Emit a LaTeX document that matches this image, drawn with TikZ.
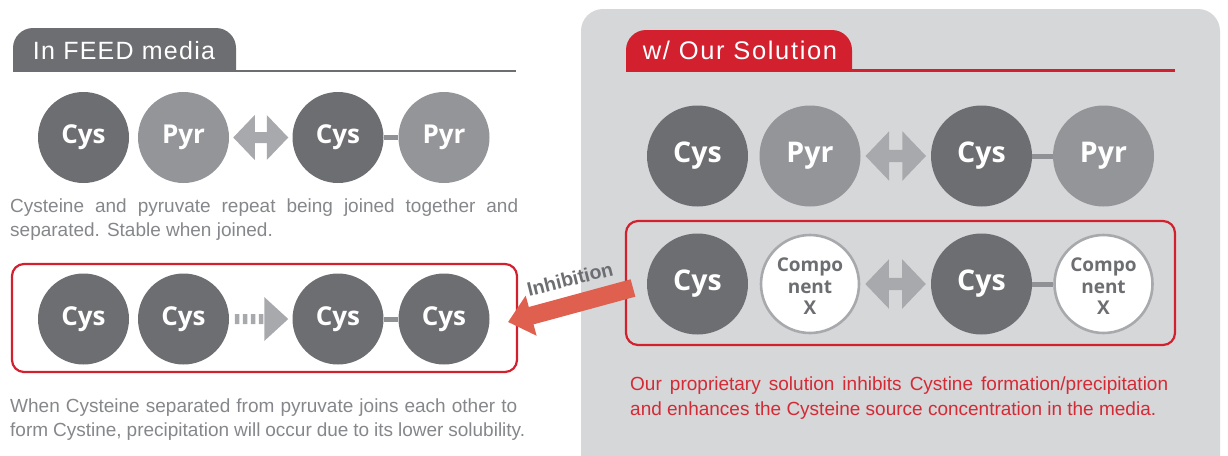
\documentclass[tikz,border=0pt]{standalone}
\usepackage{fontspec}
\setmainfont{Liberation Sans}
\newfontfamily\circfont{Open Sans}
\newfontfamily\hdrfont{Liberation Sans}[LetterSpace=5]
\newfontfamily\hdrfontb{Liberation Sans}[LetterSpace=6.5]
\usetikzlibrary{arrows.meta,calc}
\definecolor{darkc}{HTML}{6D6E71}
\definecolor{pyrc}{HTML}{939598}
\definecolor{arrowg}{HTML}{A7A9AC}
\definecolor{linkg}{HTML}{8F9194}
\definecolor{panel}{HTML}{D6D7D9}
\definecolor{redc}{HTML}{D2202F}
\definecolor{redtxtc}{HTML}{D42A36}
\definecolor{bodyg}{HTML}{85878A}
\definecolor{inhc}{HTML}{E0604F}
\tikzset{
  dblarrow/.pic={\fill[arrowg] (-27.5,0) -- (-6,-22.5) -- (-6,-5.5) -- (6,-5.5) -- (6,-22.5) -- (27.5,0) -- (6,22.5) -- (6,5.5) -- (-6,5.5) -- (-6,22.5) -- cycle;},
  dasharrow/.pic={\fill[arrowg] (-26,-5) rectangle (-21.5,5) (-18,-5) rectangle (-13.5,5) (-10,-5) rectangle (-5.5,5) (-2,-5) rectangle (2.5,5);
    \fill[arrowg] (3.5,-22) -- (27.5,0) -- (3.5,22) -- cycle;}
}
\newcommand{\compx}{\raisebox{-9.5pt}[0pt][0pt]{\begin{tabular}{@{}c@{}}Compo\\[0.5pt]nent\\[0.5pt]X\end{tabular}}}
\begin{document}
\begin{tikzpicture}[x=1pt,y=-1pt,
  circ/.style={circle, inner sep=0pt, minimum size=91pt, text=white, font=\circfont\bfseries\fontsize{26}{30}\selectfont},
  cysS/.style={circ, fill=darkc},
  pyrS/.style={circ, fill=pyrc},
  bigc/.style={minimum size=101pt, font=\circfont\bfseries\fontsize{28.5}{32}\selectfont},
  compS/.style={circle, inner sep=0pt, minimum size=98pt, fill=white, draw=arrowg, line width=2.6pt, text=darkc, font=\circfont\bfseries\fontsize{19}{21}\selectfont},
  link/.style={draw=linkg, line width=5pt},
  redbox/.style={draw=redc, line width=2.2pt, rounded corners=12pt, inner sep=0pt},
  bodytxt/.style={anchor=base west, inner sep=0pt, text=bodyg, font=\fontsize{19}{24}\selectfont},
  redtxt/.style={bodytxt, text=redtxtc},
  hdr/.style={anchor=base, inner sep=0pt, text=white, font=\hdrfont\fontsize{25}{30}\selectfont},
  hdrb/.style={hdr, font=\hdrfontb\fontsize{25.5}{30}\selectfont},
  inh/.style={draw=inhc, line width=18pt, -{Triangle[width=40pt,length=24pt]}},
  inhlabel/.style={rotate=14, inner sep=0pt, text=darkc, font=\bfseries\fontsize{19.5}{22}\selectfont},
]
\useasboundingbox (0,0) rectangle (1228,455);
\clip (0,0) rectangle (1228,455);
% right panel
\fill[panel, rounded corners=22pt] (581,9) rectangle (1220,490);
% tabs
\begin{scope}
  \clip (0,0) rectangle (1228,71);
  \fill[darkc, rounded corners=20pt] (13,28) rectangle (236,100);
  \fill[redc, rounded corners=20pt] (626,30) rectangle (852,100);
\end{scope}
\draw[darkc, line width=2.2pt] (13,71) -- (516,71);
\draw[redc, line width=2.2pt] (626,70.5) -- (1175,70.5);
\node[hdr] (h1) at (124,59.3) {In FEED media};
\node[hdrb] (h2) at (740,59) {w/ Our Solution};
% red boxes
\node[redbox, minimum width=505pt, minimum height=108pt] (boxL) at (264.5,318) {};
\node[redbox, minimum width=549pt, minimum height=124pt] (boxR) at (900.5,283) {};
% left row 1
\node[cysS] (c1) at (83.5,137.5) {Cys};
\node[pyrS] (p1) at (183.5,137.5) {Pyr};
\node[cysS] (c2) at (338,137.5) {Cys};
\node[pyrS] (p2) at (444,137.5) {Pyr};
\draw[link] (c2) -- (p2);
\pic at ($(p1.east)!0.5!(c2.west)$) {dblarrow};
% left row 2
\node[cysS] (c3) at (83.5,319) {Cys};
\node[cysS] (c4) at (183.5,319) {Cys};
\node[cysS] (c5) at (338,319) {Cys};
\node[cysS] (c6) at (444,319) {Cys};
\draw[link] (c5) -- (c6);
\pic at ($(c4.east)!0.5!(c5.west)$) {dasharrow};
% right row 1
\node[cysS,bigc] (c7) at (697.5,156) {Cys};
\node[pyrS,bigc] (p3) at (810,156) {Pyr};
\node[cysS,bigc] (c8) at (981.5,156) {Cys};
\node[pyrS,bigc] (p4) at (1103.5,156) {Pyr};
\draw[link] (c8) -- (p4);
\pic[scale=1.1] at ($(p3.east)!0.5!(c8.west)$) {dblarrow};
% right row 2
\node[cysS,bigc] (c9) at (697.5,284) {Cys};
\node[compS] (x1) at (810,284) {\compx};
\node[cysS,bigc] (c10) at (981.5,284) {Cys};
\node[compS] (x2) at (1103.5,284) {\compx};
\draw[link] (c10) -- (x2);
\pic[scale=1.1] at ($(x1.east)!0.5!(c10.west)$) {dblarrow};
% inhibition
\coordinate (inhS) at (633,288);
\coordinate (inhT) at (508,322);
\draw[inh] (inhS) -- (inhT);
\node[inhlabel] (inhL) at (570,279) {Inhibition};
% texts
\node[bodytxt] (t1a) at (10,212.7) {\makebox[508pt][s]{Cysteine and pyruvate repeat being joined together and}};
\node[bodytxt] (t1b) at (10,236.7) {separated. Stable when joined.};
\node[bodytxt] (t2a) at (10,412.7) {\makebox[507pt][s]{When Cysteine separated from pyruvate joins each other to}};
\node[bodytxt] (t2b) at (10,436.7) {\makebox[515pt][s]{form Cystine, precipitation will occur due to its lower solubility.}};
\node[redtxt] (t3a) at (630,390.7) {\makebox[538pt][s]{Our proprietary solution inhibits Cystine formation/precipitation}};
\node[redtxt] (t3b) at (630,415) {and enhances the Cysteine source concentration in the media.};
\end{tikzpicture}
\end{document}
